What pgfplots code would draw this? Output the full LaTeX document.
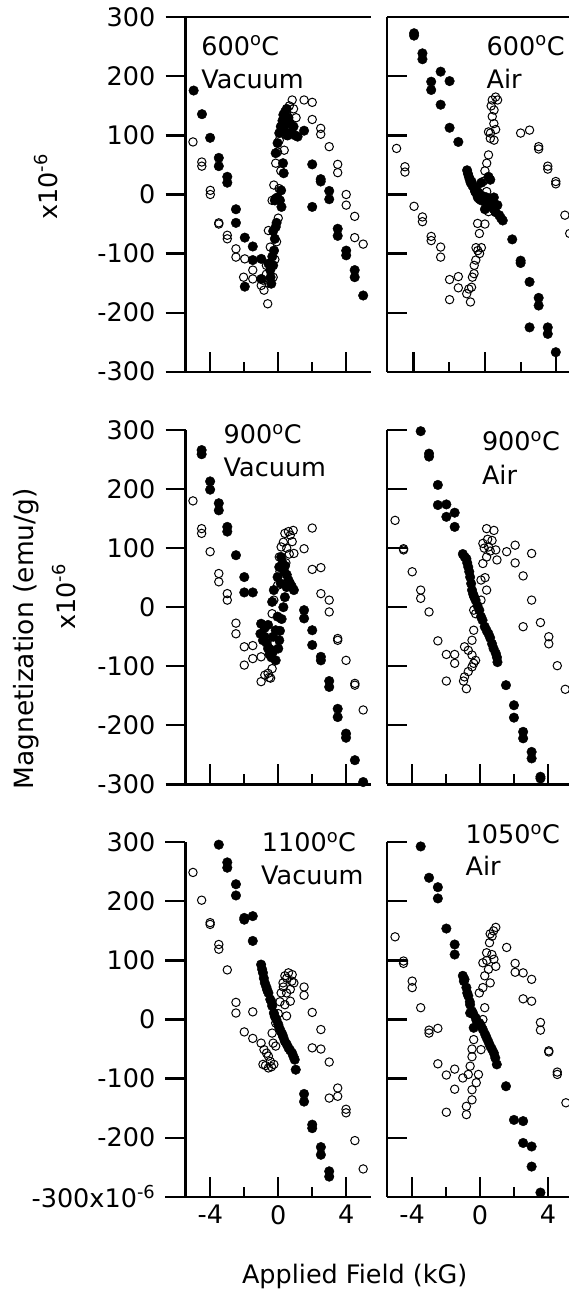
\documentclass[border=0pt]{standalone}
\usepackage{pgfplots}
\pgfplotsset{compat=1.18}
\usepackage{fontspec}
\setmainfont{DejaVu Sans}
\pgfplotsset{
 panel/.style={
   scale only axis, anchor=north west, clip=false,
   axis x line*=bottom, axis y line*=left,
   axis line style={line width=2.2pt, -},
   every outer x axis line/.append style={line width=2.2pt, -},
   every outer y axis line/.append style={line width=2.2pt, -},
   ymin=-300, ymax=300, height=354.4pt,
   ytick={-300,-200,-100,0,100,200,300},
   xtick={-4,0,4}, minor xtick={-2,2},
   xticklabels={}, yticklabels={},
   major tick length=20pt, minor tick length=10pt,
   every tick/.append style={line width=2.2pt, black},
   xtick align=inside,
 },
 leftp/.style={panel, xmin=-5.46, xmax=5.46, width=185.5pt, ytick align=outside,
   yticklabel style={anchor=east, inner sep=0pt, xshift=-10pt}},
 rightp/.style={panel, ytick align=inside, xmin=-5.48},
 fil/.style={only marks, mark=*, mark size=4.8pt, mark options={fill=black, draw=black, line width=0.4pt}},
 opn/.style={only marks, mark=o, mark size=4.2pt, mark options={draw=black, line width=1pt}},
}
\newcommand{\topline}{\draw[line width=2.2pt] (rel axis cs:0,1) -- (rel axis cs:1,1);}
\begin{document}
\fontsize{25.5}{30}\selectfont
\begin{tikzpicture}
% ---------------- top left: 600C vacuum
\begin{axis}[leftp, at={(185.5pt,-17.3pt)}, yticklabels={-300,-200,-100,0,100,200,300}]
\addplot[fil] coordinates {(-4.98,176) (-4.49,136) (-4.01,96) (-3.50,62) (-3.50,48) (-3.0,30) (-3.0,20) (-2.49,-25) (-2.49,-48) (-1.97,-73) (-1.50,-88) (-1.97,-156) (-1.50,-111) (-1.0,-109) (-1.0,-143) (-0.58,-117) (-0.47,-128) (-0.41,-151) (-0.45,-140) (-0.35,-105) (-0.3,-120) (-0.25,-95) (-0.2,-75) (-0.15,-55) (-0.3,-62) (-0.1,-48) (-0.2,-10) (-0.05,-5) (0.1,-10) (0.19,-21) (0.17,7) (-0.15,-7) (0.28,53) (0.32,36) (-0.15,70) (-0.04,87) (0.06,104) (0.15,115) (0.25,125) (0.3,135) (0.4,140) (0.5,145) (0.35,110) (0.55,100) (0.7,120) (0.8,105) (0.9,115) (1.0,100) (1.14,98) (0.6,130) (0.45,120) (1.52,108) (2.0,51) (2.5,26) (2.5,22) (3.0,6) (3.0,-8) (2.0,-21) (3.5,-58) (3.5,-70) (4.0,-95) (4.0,-103) (4.5,-128) (4.5,-140) (5.0,-171)};
\addplot[opn] coordinates {(-5.02,89) (-4.5,55) (-4.5,48) (-4.0,7) (-4.0,0) (-3.5,-48) (-3.5,-50) (-3.0,-69) (-3.0,-75) (-2.49,-92) (-2.49,-106) (-1.97,-109) (-2.04,-140) (-1.5,-128) (-1.5,-143) (-1.0,-154) (-0.84,-162) (-0.62,-185) (-0.58,-61) (-0.47,-89) (-0.36,-10) (-0.26,16) (-0.15,53) (-0.04,72) (0.06,92) (0.28,115) (0.49,138) (0.82,160) (1.52,160) (2.0,156) (2.0,127) (2.5,112) (2.5,102) (3.0,81) (3.5,51) (3.5,37) (4.0,0) (4.0,-18) (4.5,-37) (4.5,-73) (5.0,-84) (-0.7,-120) (-0.55,-150) (-0.3,-140) (-0.2,-110) (-0.1,-80) (0.0,-40) (0.05,10) (0.15,40) (0.35,75) (0.5,100) (0.65,150) (0.9,145) (1.05,130) (-0.7,-135) (-0.9,-145)};
\topline
\end{axis}
% ---------------- top right: 600C air
\begin{axis}[rightp, at={(387.1pt,-17.3pt)}, width=181.9pt, xmax=4.71]
\addplot[fil] coordinates {(-3.97,273) (-3.97,269) (-3.5,239) (-3.5,229) (-3.01,191) (-3.01,177) (-2.48,208) (-1.98,192) (-2.48,152) (-1.98,113) (-1.49,89) (-1.0,41) (-0.95,35) (-0.9,30) (-0.85,25) (-0.8,20) (-0.75,22) (-0.7,15) (-0.6,10) (-0.55,5) (-0.5,12) (-0.45,0) (-0.4,-5) (-0.35,3) (-0.3,-8) (-0.2,-10) (-0.1,-3) (0.0,-12) (0.1,-5) (0.2,-15) (0.3,-20) (0.35,-10) (0.4,-22) (0.5,-25) (0.6,-30) (0.7,-18) (0.8,-35) (0.9,-40) (1.0,-44) (0.2,30) (0.3,25) (-0.2,20) (0.0,-25) (0.5,-5) (1.53,-76) (2.0,-112) (2.0,-116) (2.5,-148) (3.01,-175) (3.01,-188) (3.52,-225) (3.52,-236) (2.5,-225) (3.97,-267)};
\addplot[opn] coordinates {(-4.95,78) (-4.48,47) (-4.48,38) (-3.97,-20) (-3.5,-38) (-3.5,-46) (-3.01,-71) (-3.01,-78) (-2.48,-89) (-2.48,-106) (-1.98,-144) (-1.98,-178) (-1.49,-139) (-1.49,-158) (-1.02,-168) (-0.81,-182) (-0.75,-157) (-0.61,-134) (-0.51,-111) (-0.31,-66) (-0.41,-49) (0.2,-29) (-0.1,22) (0.1,53) (0.2,67) (0.51,92) (0.2,106) (0.31,104) (0.41,132) (0.51,143) (0.41,160) (0.71,160) (2.0,104) (2.5,109) (3.01,81) (3.01,77) (3.52,48) (3.52,43) (3.97,22) (3.97,18) (4.48,-35) (4.75,-66) (-0.9,-160) (-0.7,-140) (-0.6,-120) (-0.4,-95) (-0.3,-100) (-0.5,-90) (0.0,-50) (0.1,5) (0.0,40) (0.3,95) (0.5,120) (0.6,110) (0.35,150) (0.6,165) (-0.2,-90)};
\topline
\end{axis}
% ---------------- middle left: 900C vacuum
\begin{axis}[leftp, at={(185.5pt,-430pt)}, yticklabels={-300,-200,-100,0,100,200,300}]
\addplot[fil] coordinates {(-4.51,266) (-4.51,259) (-4.01,213) (-4.01,199) (-3.5,176) (-3.5,164) (-3.0,136) (-3.0,128) (-2.49,88) (-2.0,51) (-2.0,25) (-1.5,25) (-1.01,-28) (-1.05,-45) (-0.9,-56) (-0.8,-50) (-0.7,-60) (-0.6,-70) (-0.5,-80) (-0.4,-85) (-0.3,-75) (-0.15,-90) (-0.47,-78) (-0.8,-35) (-0.6,-30) (-0.36,9) (-0.26,29) (-0.04,51) (0.06,68) (0.17,85) (0.25,75) (0.35,60) (0.6,46) (0.92,29) (0.49,34) (0.39,17) (0.3,0) (0.2,-20) (-0.04,-16) (-0.15,-39) (0.06,-56) (0.1,-40) (0.0,-70) (-0.3,-50) (0.15,40) (0.4,70) (0.5,55) (0.7,40) (0.8,35) (1.52,-5) (1.52,-19) (2.0,-39) (2.0,-64) (2.51,-84) (2.51,-90) (3.0,-125) (3.0,-135) (3.5,-172) (3.5,-186) (3.99,-214) (3.99,-221) (4.51,-259) (5.0,-296)};
\addplot[opn] coordinates {(-5.02,180) (-4.51,133) (-4.51,125) (-4.01,94) (-3.5,57) (-3.5,43) (-3.0,23) (-3.0,12) (-2.49,-27) (-2.49,-45) (-2.0,-67) (-1.5,-65) (-2.0,-98) (-1.5,-87) (-1.01,-126) (-0.79,-115) (-0.54,-119) (-0.36,-104) (-1.01,-84) (-0.54,-70) (-0.36,-11) (-0.26,12) (-0.04,37) (0.06,85) (0.17,102) (0.39,125) (0.6,128) (0.71,122) (0.88,130) (0.82,111) (0.92,91) (1.52,99) (2.0,134) (2.0,64) (2.51,67) (2.51,23) (3.0,12) (3.0,-8) (3.5,-53) (3.5,-56) (3.99,-90) (4.51,-129) (4.51,-132) (5.0,-174) (-0.6,-112) (-0.45,-120) (-0.2,-60) (0.1,60) (0.3,110) (0.5,100) (0.65,90) (0.45,75)};
\end{axis}
% ---------------- middle right: 900C air
\begin{axis}[rightp, at={(386.9pt,-430pt)}, width=182.1pt, xmax=5.24]
\addplot[fil] coordinates {(-3.49,298) (-3.0,260) (-3.0,255) (-2.48,207) (-2.48,173) (-1.98,174) (-1.98,153) (-1.49,160) (-1.49,136) (-1.01,90) (-0.9,85) (-0.8,82) (-0.75,75) (-0.69,68) (-0.63,60) (-0.58,51) (-0.52,40) (-0.47,29) (-0.4,22) (-0.35,18) (-0.26,12) (-0.15,3) (-0.04,-5) (0.06,-16) (0.15,-22) (0.28,-33) (0.4,-40) (0.5,-45) (0.6,-52) (0.71,-62) (0.8,-70) (0.93,-78) (1.03,-93) (1.0,-85) (1.53,-132) (2.0,-166) (2.0,-187) (2.54,-211) (2.54,-222) (3.04,-245) (3.04,-256) (3.56,-287) (3.56,-290)};
\addplot[opn] coordinates {(-5.0,147) (-4.5,99) (-4.5,97) (-3.99,60) (-3.49,29) (-3.49,15) (-3.0,-8) (-2.48,-57) (-1.98,-80) (-1.49,-80) (-1.98,-125) (-1.49,-95) (-0.97,-125) (-0.8,-138) (-0.91,-118) (-0.69,-109) (-0.47,-101) (-0.37,-95) (-0.26,-90) (-0.47,-81) (-0.69,-73) (-0.91,-67) (-0.47,-56) (-0.37,-39) (-0.26,-11) (-0.37,-5) (0.06,12) (0.39,29) (0.06,46) (0.17,74) (0.39,85) (0.39,133) (0.82,130) (0.17,108) (0.5,102) (0.71,113) (0.93,97) (1.57,94) (2.07,105) (2.07,75) (2.54,53) (3.04,91) (3.04,12) (2.54,-33) (3.56,-26) (4.05,-50) (4.05,-62) (4.55,-99) (5.02,-139) (0.3,50) (0.6,95) (0.25,100) (0.45,115) (1.0,80)};
\end{axis}
% ---------------- bottom left: 1100C vacuum
\begin{axis}[leftp, at={(185.5pt,-842.3pt)}, yticklabels={{-300x10\textsuperscript{-6}},-200,-100,0,100,200,300}, xticklabels={-4,0,4}]
\addplot[fil] coordinates {(-3.5,296) (-3.0,266) (-3.0,257) (-2.49,229) (-2.49,210) (-2.0,172) (-2.0,169) (-1.5,175) (-1.5,133) (-1.01,93) (-0.9,79) (-0.79,62) (-0.7,55) (-0.58,45) (-0.47,34) (-0.36,23) (-0.26,11) (-0.11,0) (0.06,-14) (0.24,-25) (0.39,-37) (0.6,-48) (0.82,-57) (0.97,-68) (1.03,-85) (-0.95,85) (-0.85,70) (-0.65,50) (-0.4,30) (-0.2,5) (0.0,-8) (0.15,-20) (0.3,-30) (0.5,-42) (0.7,-52) (0.9,-63) (1.52,-126) (1.52,-139) (2.0,-178) (2.0,-184) (2.51,-216) (2.51,-229) (3.0,-257) (3.0,-266)};
\addplot[opn] coordinates {(-5.02,249) (-4.51,202) (-4.01,164) (-4.01,161) (-3.5,127) (-3.5,119) (-3.0,84) (-2.49,29) (-2.49,11) (-1.5,13) (-2.0,-21) (-1.5,-32) (-1.01,-40) (-0.84,-51) (-0.69,-57) (-0.58,-62) (-0.47,-71) (-0.26,-76) (-0.58,-82) (-0.9,-76) (-0.36,-23) (-0.15,-6) (-0.15,-45) (0.17,45) (0.28,62) (0.39,74) (0.6,79) (0.82,76) (0.49,45) (0.71,51) (0.92,62) (0.71,31) (0.39,25) (0.49,6) (1.52,55) (1.52,41) (2.0,12) (2.51,-17) (2.0,-48) (2.51,-50) (3.0,-72) (3.5,-116) (3.0,-133) (3.5,-130) (3.99,-152) (3.99,-158) (4.51,-205) (5.0,-253) (-0.75,-78) (-0.4,-80) (0.0,10) (0.1,30) (0.5,70) (0.8,65) (0.3,55) (-0.3,-40)};
\end{axis}
% ---------------- bottom right: 1050C air
\begin{axis}[rightp, at={(386.9pt,-842.3pt)}, width=182.1pt, xmax=5.24, xticklabels={-4,0,4}]
\addplot[fil] coordinates {(-3.49,293) (-3.0,240) (-2.48,224) (-2.48,205) (-1.98,154) (-1.49,127) (-1.49,110) (-1.01,74) (-0.91,68) (-0.8,54) (-0.69,40) (-0.58,25) (-0.47,14) (-0.26,3) (-0.04,-6) (0.17,-17) (0.39,-31) (0.6,-45) (0.82,-57) (0.99,-76) (-0.37,-14) (-0.58,11) (-0.95,65) (-0.75,45) (-0.6,30) (-0.4,10) (-0.2,-2) (0.05,-10) (0.3,-25) (0.5,-38) (0.7,-50) (0.9,-65) (1.53,-113) (2.0,-170) (2.54,-172) (2.54,-209) (3.04,-215) (3.04,-249) (3.56,-293)};
\addplot[opn] coordinates {(-5.0,140) (-4.5,99) (-4.5,95) (-3.99,65) (-3.99,54) (-3.49,20) (-3.0,-18) (-3.0,-23) (-2.48,-15) (-2.48,-75) (-1.98,-94) (-1.49,-84) (-1.49,-118) (-1.98,-157) (-1.01,-99) (-0.69,-93) (-0.58,-79) (-0.47,-63) (-0.47,-50) (-0.37,-34) (-0.09,-93) (-0.22,-107) (-0.47,-119) (-0.47,-136) (-0.8,-147) (-0.8,-161) (0.06,-51) (0.17,0) (0.28,20) (-0.04,45) (0.17,54) (0.28,74) (0.5,85) (0.17,96) (0.39,113) (0.56,130) (0.71,141) (0.93,156) (0.82,102) (0.93,90) (0.6,62) (1.57,122) (2.07,95) (2.07,80) (2.54,79) (3.04,68) (2.54,35) (3.04,31) (3.56,-5) (3.56,-18) (4.05,-53) (4.05,-55) (4.55,-89) (4.55,-93) (5.06,-141) (0.6,145) (0.8,150) (0.4,100) (0.7,110)};
\end{axis}
% ---------------- texts
\begin{scope}[every node/.style={inner sep=0.5pt, fill=white, anchor=base west}]
\node at (200.7pt,-55pt) {600\textsuperscript{o}C};
\node at (200.7pt,-88.3pt) {Vacuum};
\node at (486pt,-55pt) {600\textsuperscript{o}C};
\node at (486pt,-88.3pt) {Air};
\node at (223pt,-443.7pt) {900\textsuperscript{o}C};
\node at (223pt,-476.3pt) {Vacuum};
\node at (481.3pt,-450.3pt) {900\textsuperscript{o}C};
\node at (481.3pt,-484.7pt) {Air};
\node at (261.2pt,-851.7pt) {1100\textsuperscript{o}C};
\node at (260.5pt,-884.1pt) {Vacuum};
\node at (465pt,-843.3pt) {1050\textsuperscript{o}C};
\node at (465pt,-875.7pt) {Air};
\end{scope}
\node[rotate=90, anchor=base, inner sep=0pt] at (57pt,-187pt) {x10\textsuperscript{-6}};
\node[rotate=90, anchor=base, inner sep=0pt] at (75pt,-597pt) {x10\textsuperscript{-6}};
\node[rotate=90, anchor=base, inner sep=0pt] at (33.5pt,-639pt) {\fontsize{26.5}{30}\selectfont Magnetization (emu/g)};
\node[anchor=base, inner sep=0pt] at (354.7pt,-1283.3pt) {Applied Field (kG)};
\pgfresetboundingbox
\path[use as bounding box] (0pt,0pt) rectangle (569pt,-1294pt);
\end{tikzpicture}
\end{document}
